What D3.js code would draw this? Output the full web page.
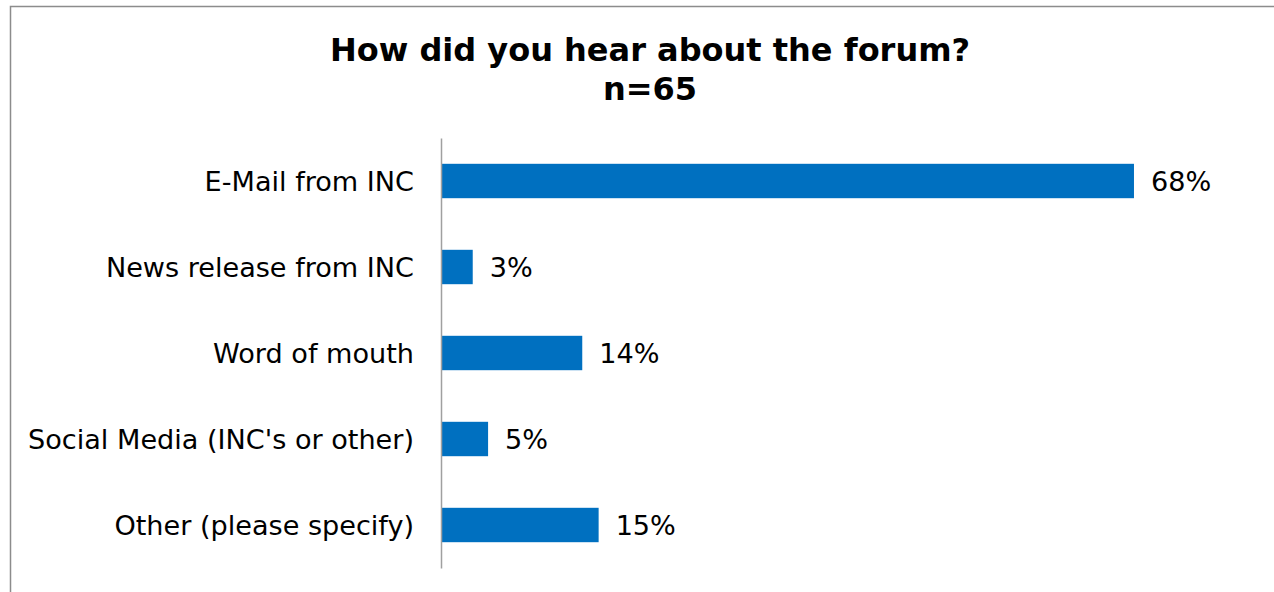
<!DOCTYPE html>
<html>
<head>
<meta charset="utf-8">
<script src="https://cdn.jsdelivr.net/npm/d3@7"></script>
<style>
  html, body { margin: 0; padding: 0; background: #fff; }
  svg { display: block; }
  text { font-family: "DejaVu Sans", Verdana, sans-serif; fill: #000; }
</style>
</head>
<body>
<svg id="chart" width="1274" height="592"></svg>
<script>
const titleLines = ["How did you hear about the forum?", "n=65"];
const categories = ["E-Mail from INC", "News release from INC", "Word of mouth", "Social Media (INC's or other)", "Other (please specify)"];
const values = [0.677, 0.031, 0.138, 0.046, 0.154];

const svg = d3.select("#chart");

// outer frame
svg.append("rect")
  .attr("x", 10.5).attr("y", 6.5)
  .attr("width", 1290).attr("height", 620)
  .attr("fill", "none").attr("stroke", "#8c8c8c").attr("stroke-width", 1.5);

// title
const title = svg.append("text")
  .attr("text-anchor", "middle")
  .style("font-weight", "bold").style("font-size", "32px");
titleLines.forEach((t, i) => {
  title.append("tspan").attr("x", 650).attr("y", 61 + i * 39).text(t);
});

const x = d3.scaleLinear().domain([0, 0.8]).range([441, 441 + 0.8 * 1023.6]);
const y = d3.scaleBand().domain(categories).range([138, 568]).paddingInner(0.6).paddingOuter(0.3);

const data = categories.map((c, i) => ({ c, v: values[i] }));

svg.append("g").selectAll("rect").data(data).join("rect")
  .attr("x", x(0))
  .attr("y", d => y(d.c))
  .attr("width", d => x(d.v) - x(0))
  .attr("height", y.bandwidth())
  .attr("fill", "#0070C0");

// y axis
const yAxis = d3.axisLeft(y).tickSize(0).tickPadding(27);
const gy = svg.append("g").attr("transform", `translate(${x(0)},0)`).call(yAxis);
gy.select(".domain").attr("stroke", "#a0a0a0").attr("stroke-width", 1.5);
gy.selectAll(".tick text").style("font-size", "27.1px").attr("fill", "#000").attr("font-family", "DejaVu Sans, Verdana, sans-serif").attr("dy", "0.37em");

const fmt = d3.format(".0%");
svg.append("g").selectAll("text").data(data).join("text")
  .attr("x", d => x(d.v) + 17)
  .attr("y", d => y(d.c) + y.bandwidth() / 2)
  .attr("dy", "0.37em")
  .style("font-size", "27.1px")
  .text(d => fmt(d.v));
</script>
</body>
</html>
